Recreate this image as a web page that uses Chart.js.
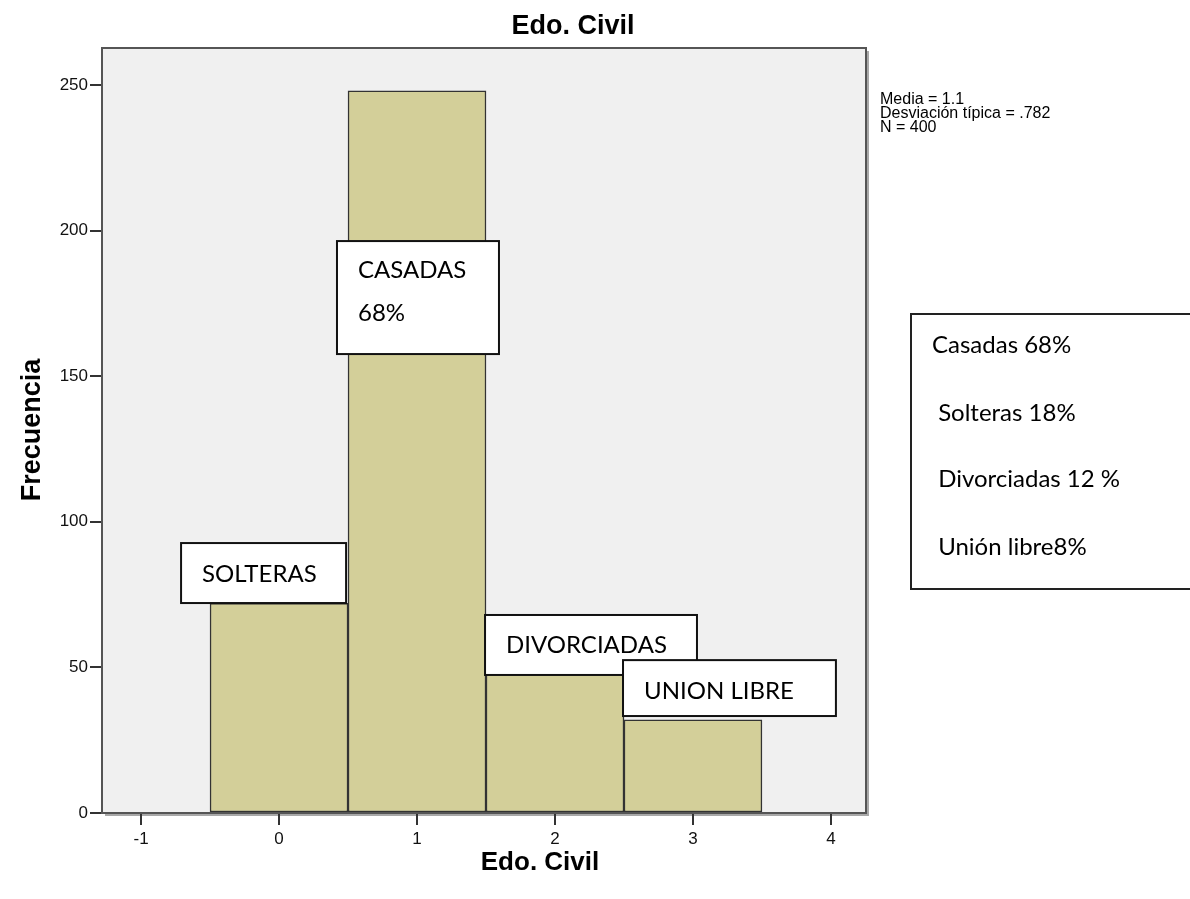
<!DOCTYPE html>
<html lang="es">
<head>
    <meta charset="UTF-8">
    <title>Edo. Civil</title>
    <script src="https://cdn.jsdelivr.net/npm/chart.js"></script>
    <style>
        body { margin: 0; background: #fff; }
    </style>
</head>
<body>
    <canvas id="histChart" width="1190" height="899"></canvas>

    <script>
        const categories = [0, 1, 2, 3];
        const frequencies = [72, 248, 48, 32];
        const xTicks = [-1, 0, 1, 2, 3, 4];
        const yTicks = [0, 50, 100, 150, 200, 250];
        const statsLines = ['Media = 1.1', 'Desviación típica = .782', 'N = 400'];
        const legendLines = ['Casadas 68%', ' Solteras 18%', ' Divorciadas 12 %', ' Unión libre8%'];

        // cuadros de texto sobre las barras (coordenadas en valores de los ejes)
        const boxes = [
            { lines: ['SOLTERAS'], x0: -0.71, x1: 0.486, yTop: 92.7, yBottom: 72.1, base: [39] },
            { lines: ['CASADAS', '68%'], x0: 0.42, x1: 1.594, yTop: 196.4, yBottom: 157.6, base: [37, 80] },
            { lines: ['DIVORCIADAS'], x0: 1.493, x1: 3.029, yTop: 68.0, yBottom: 47.4, base: [38] },
            { lines: ['UNION LIBRE'], x0: 2.493, x1: 4.036, yTop: 52.5, yBottom: 33.3, base: [39] }
        ];

        const boxFont = '24px Lato';

        const decorations = {
            id: 'decorations',
            beforeDraw(chart) {
                const { ctx, chartArea: a } = chart;
                ctx.save();
                ctx.fillStyle = '#a8a8a8';
                ctx.fillRect(a.left + 3, a.top + 3, a.right - a.left, a.bottom - a.top);
                ctx.fillStyle = '#f0f0f0';
                ctx.fillRect(a.left, a.top, a.right - a.left, a.bottom - a.top);
                ctx.restore();
            },
            afterDraw(chart) {
                const { ctx, chartArea: a, scales } = chart;
                ctx.save();
                ctx.strokeStyle = '#555';
                ctx.lineWidth = 2;
                ctx.strokeRect(a.left, a.top, a.right - a.left, a.bottom - a.top);

                // titulos
                ctx.fillStyle = '#000';
                ctx.font = 'bold 27px "Liberation Sans"';
                ctx.textAlign = 'center';
                ctx.textBaseline = 'alphabetic';
                ctx.fillText('Edo. Civil', 573, 34);
                ctx.font = 'bold 26px "Liberation Sans"';
                ctx.fillText('Edo. Civil', 540, 870);
                ctx.save();
                ctx.translate(40, 430);
                ctx.rotate(-Math.PI / 2);
                ctx.font = 'bold 27px "Liberation Sans"';
                ctx.fillText('Frecuencia', 0, 0);
                ctx.restore();

                // estadisticos
                ctx.textAlign = 'left';
                ctx.font = '16px "Liberation Sans"';
                statsLines.forEach((t, i) => ctx.fillText(t, 880, 104 + i * 14));

                // cuadros sobre las barras
                ctx.font = boxFont;
                boxes.forEach(b => {
                    const l = scales.x.getPixelForValue(b.x0);
                    const r = scales.x.getPixelForValue(b.x1);
                    const t = scales.y.getPixelForValue(b.yTop);
                    const bt = scales.y.getPixelForValue(b.yBottom);
                    ctx.fillStyle = '#fff';
                    ctx.fillRect(l, t, r - l, bt - t);
                    ctx.strokeStyle = '#111';
                    ctx.lineWidth = 2;
                    ctx.strokeRect(l, t, r - l, bt - t);
                    ctx.fillStyle = '#000';
                    b.lines.forEach((line, i) => ctx.fillText(line, l + 21, t + b.base[i]));
                });

                // cuadro de porcentajes a la derecha
                ctx.fillStyle = '#fff';
                ctx.fillRect(911, 314, 290, 275);
                ctx.strokeStyle = '#222';
                ctx.lineWidth = 2;
                ctx.strokeRect(911, 314, 290, 275);
                ctx.fillStyle = '#000';
                const baselines = [353, 421, 487, 555];
                legendLines.forEach((t, i) => ctx.fillText(t, 932, baselines[i]));
                ctx.restore();
            }
        };

        const ctx = document.getElementById('histChart').getContext('2d');
        new Chart(ctx, {
            type: 'bar',
            data: {
                datasets: [{
                    label: 'Frecuencia',
                    data: categories.map((c, i) => ({ x: c, y: frequencies[i] })),
                    backgroundColor: '#d3cf99',
                    borderColor: '#333',
                    borderWidth: 1.5,
                    borderSkipped: false,
                    barPercentage: 1,
                    categoryPercentage: 1
                }]
            },
            options: {
                responsive: false,
                animation: false,
                layout: { padding: { top: 48, right: 324, left: 0, bottom: 0 } },
                plugins: {
                    legend: { display: false },
                    tooltip: { enabled: false }
                },
                scales: {
                    x: {
                        type: 'linear',
                        offset: false,
                        min: -1.283,
                        max: 4.254,
                        afterBuildTicks: s => { s.ticks = xTicks.map(v => ({ value: v })); },
                        afterFit: s => { s.height = 86; },
                        grid: { offset: false, drawOnChartArea: false, tickLength: 12, tickColor: '#333', lineWidth: 2 },
                        border: { display: false },
                        ticks: { color: '#111', padding: 4, font: { family: 'Liberation Sans', size: 17 } }
                    },
                    y: {
                        min: 0,
                        max: 262.7,
                        afterBuildTicks: s => { s.ticks = yTicks.map(v => ({ value: v })); },
                        afterFit: s => { s.width = 102; },
                        grid: { drawOnChartArea: false, tickLength: 12, tickColor: '#333', lineWidth: 2 },
                        border: { display: false },
                        ticks: { color: '#111', padding: 2, font: { family: 'Liberation Sans', size: 17 } }
                    }
                }
            },
            plugins: [decorations]
        });
    </script>
</body>
</html>
